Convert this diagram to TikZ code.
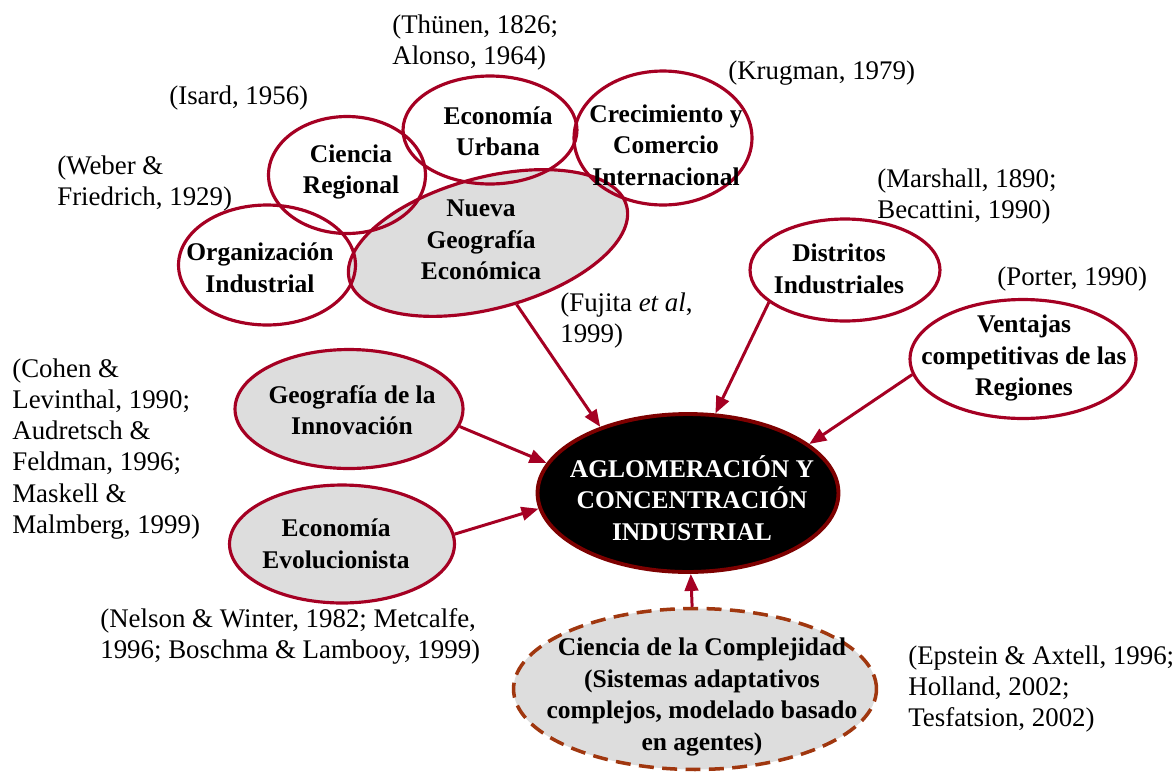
\documentclass[tikz,border=0pt]{standalone}
\usepackage{fontspec}
\setmainfont{Liberation Serif}
\usetikzlibrary{shapes.geometric,arrows.meta}
\definecolor{bordo}{RGB}{165,0,35}
\definecolor{granate}{RGB}{125,0,0}
\definecolor{ocre}{RGB}{160,55,15}
\definecolor{gris}{RGB}{221,221,221}
\begin{document}
\begin{tikzpicture}[x=0.02cm,y=-0.02cm,
  oval/.style={ellipse, draw=bordo, line width=1.8pt, inner sep=0pt},
  grisoval/.style={oval, fill=gris},
  tema/.style={align=center, inner sep=0pt,
    font=\fontsize{14.5pt}{17.9pt}\selectfont\bfseries},
  cita/.style={align=left, inner sep=0pt, anchor=north west,
    font=\fontsize{15.3pt}{17.8pt}\selectfont},
  flecha/.style={draw=bordo, line width=1.7pt,
    -{Triangle[length=0.34cm,width=0.27cm]}}]
\useasboundingbox (0,0) rectangle (1176,771);
\fill[white] (0,0) rectangle (1176,771);

% core ellipse of the cluster, drawn first so the other outlines cross it
\node[grisoval, rotate=15, minimum width=5.74cm, minimum height=2.62cm] (nueva) at (488,243) {};
\node[oval, minimum width=3.54cm, minimum height=2.4cm] (org) at (267,265) {};
\node[oval, minimum width=3.14cm, minimum height=2.34cm] (cien) at (347,175) {};
\node[oval, minimum width=3.48cm, minimum height=2.16cm] (urb) at (490,130) {};
\node[oval, minimum width=3.56cm, minimum height=2.68cm] (crec) at (663,138) {};

% other sources
\node[oval, minimum width=3.8cm, minimum height=2.04cm] (dist) at (845,270) {};
\node[oval, minimum width=4.52cm, minimum height=2.38cm] (vent) at (1023,359) {};
\node[grisoval, minimum width=4.56cm, minimum height=2.38cm] (geo) at (349,409) {};
\node[grisoval, minimum width=4.5cm, minimum height=2.36cm] (evo) at (342,544) {};

% central concept
\node[ellipse, fill=black, draw=granate, line width=2.2pt, inner sep=0pt,
  minimum width=6.02cm, minimum height=3.16cm] (aglo) at (688,493) {};

% complexity science
\node[ellipse, fill=gris, draw=ocre, line width=2pt, dash pattern=on 8.5pt off 4.8pt,
  inner sep=0pt, minimum width=7.26cm, minimum height=3.22cm] (comp) at (695,689) {};

% arrows into the central concept
\draw[flecha] (nueva.-80) -- (aglo.143);
\draw[flecha] (dist.-157) -- (aglo.71);
\draw[flecha] (vent.-172) -- (aglo.22);
\draw[flecha] (geo.-9) -- (aglo.168);
\draw[flecha] (evo.5) -- (aglo.-174);
\draw[flecha] (comp.92) -- (aglo.-88);

% topic labels
\node[tema] (tnueva) at (481,240) {Nueva\\Geografía\\Económica};
\node[tema] (torg) at (260,268) {Organización\\Industrial};
\node[tema] (tcien) at (351,172) {Ciencia\\Regional};
\node[tema] (turb) at (498,131) {Economía\\Urbana};
\node[tema] (tcrec) at (666,145) {Crecimiento y\\Comercio\\Internacional};
\node[tema] (tdist) at (839,269) {Distritos\\Industriales};
\node[tema] (tvent) at (1024,358) {Ventajas\\competitivas de las\\Regiones};
\node[tema] (tgeo) at (352,410) {Geografía de la\\Innovación};
\node[tema] (tevo) at (336,544) {Economía\\Evolucionista};
\node[tema, text=white] (taglo) at (692,498) {AGLOMERACIÓN Y\\CONCENTRACIÓN\\INDUSTRIAL};
\node[tema] (tcomp) at (702,697) {Ciencia de la Complejidad\\(Sistemas adaptativos\\complejos, modelado basado\\en agentes)};

% references
\node[cita] (rthu) at (392,14) {(Thünen, 1826;\\Alonso, 1964)};
\node[cita] (rkru) at (728,60) {(Krugman, 1979)};
\node[cita] (risa) at (169,85) {(Isard, 1956)};
\node[cita] (rweb) at (57,155) {(Weber \&\\Friedrich, 1929)};
\node[cita] (rmar) at (877,168) {(Marshall, 1890;\\Becattini, 1990)};
\node[cita] (rpor) at (997,266) {(Porter, 1990)};
\node[cita] (rfuj) at (560,292) {(Fujita \textit{et al},\\1999)};
\node[cita] (rcoh) at (12,358) {(Cohen \&\\Levinthal, 1990;\\Audretsch \&\\Feldman, 1996;\\Maskell \&\\Malmberg, 1999)};
\node[cita] (rnel) at (100,608) {(Nelson \& Winter, 1982; Metcalfe,\\1996; Boschma \& Lambooy, 1999)};
\node[cita] (reps) at (908,645) {(Epstein \& Axtell, 1996;\\Holland, 2002;\\Tesfatsion, 2002)};
\end{tikzpicture}
\end{document}
